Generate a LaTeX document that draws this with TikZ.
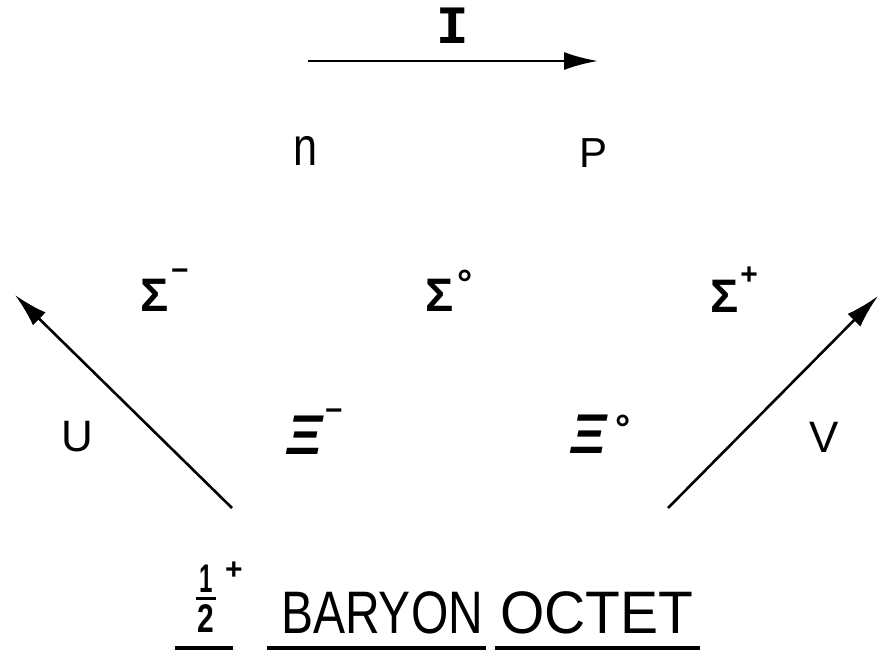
\documentclass[tikz,border=0pt]{standalone}
\usepackage{fontspec}
\setmainfont{Liberation Sans}
\newfontfamily\monofam{Liberation Mono}
\usetikzlibrary{arrows.meta}
\tikzset{
  lbl/.style={inner sep=0pt, font=\fontsize{44}{44}\selectfont},
  greek/.style={inner sep=0pt, font=\bfseries\fontsize{47}{47}\selectfont},
  xi/.style={inner sep=0pt, font=\bfseries\itshape\fontsize{56}{56}\selectfont},
  supr/.style={inner sep=0pt, font=\bfseries\fontsize{30}{30}\selectfont},
  degr/.style={inner sep=0pt, font=\bfseries\fontsize{38}{38}\selectfont},
  big/.style={inner sep=0pt, anchor=base west, font=\fontsize{60}{60}\selectfont},
  frac/.style={inner sep=0pt, font=\bfseries\fontsize{40}{40}\selectfont},
  axis/.style={line width=2.6pt, -{Latex[length=34pt,width=18pt]}},
  uline/.style={line width=3.5pt},
}
\begin{document}
\begin{tikzpicture}[x=1pt,y=-1pt]
\useasboundingbox (0,0) rectangle (880,653);
% isospin axis
\node[inner sep=0pt, font=\monofam\bfseries\fontsize{54}{54}\selectfont] (I) at (453,26) {I};
\coordinate (Ia) at (308,61);
\coordinate (Ib) at (598,61);
\draw[axis] (Ia) -- (Ib);
% nucleons
\node[inner sep=0pt, font=\fontsize{54}{54}\selectfont, xscale=0.8] (n) at (306,151) {n};
\node[inner sep=0pt, anchor=base, font=\fontsize{42}{42}\selectfont] (p) at (593,167) {P};
% sigmas
\node[greek, anchor=base] (sm) at (155,311) {Σ};
\node[supr] (smx) at (180,275) {−};
\node[greek, anchor=base] (s0) at (440,311) {Σ};
\node[degr] (s0x) at (465,283) {°};
\node[greek, anchor=base] (sp) at (725,312) {Σ};
\node[supr] (spx) at (749,276) {+};
% xis
\node[xi, anchor=base] (xm) at (305,454) {Ξ};
\node[supr] (xmx) at (334,415) {−};
\node[xi, anchor=base] (x0) at (589,453) {Ξ};
\node[degr] (x0x) at (623,428) {°};
% U, V
\node[lbl, anchor=base] (U) at (77,451) {U};
\node[lbl, anchor=base] (V) at (824,452) {V};
\coordinate (Ua) at (232,508);
\coordinate (Ub) at (15,295);
\coordinate (Va) at (668,508);
\coordinate (Vb) at (878,296);
\draw[axis] (Ua) -- (Ub);
\draw[axis] (Va) -- (Vb);
% title
\node[frac, xscale=0.6, anchor=base] (one) at (206,592) {1};
\node[frac, xscale=0.75, anchor=base] (two) at (206,632) {2};
\node[supr] (plus) at (234,571) {+};
\coordinate (fb1) at (196,598);
\coordinate (fb2) at (216,598);
\draw[line width=3pt] (fb1) -- (fb2);
\node[big, xscale=0.8] (baryon) at (281,633) {BARYON};
\node[big, xscale=0.95] (octet) at (500,633) {OCTET};
\coordinate (u1a) at (175,648); \coordinate (u1b) at (233,648);
\coordinate (u2a) at (267,648); \coordinate (u2b) at (486,648);
\coordinate (u3a) at (495,648); \coordinate (u3b) at (700,648);
\draw[uline] (u1a) -- (u1b);
\draw[uline] (u2a) -- (u2b);
\draw[uline] (u3a) -- (u3b);
\end{tikzpicture}
\end{document}
